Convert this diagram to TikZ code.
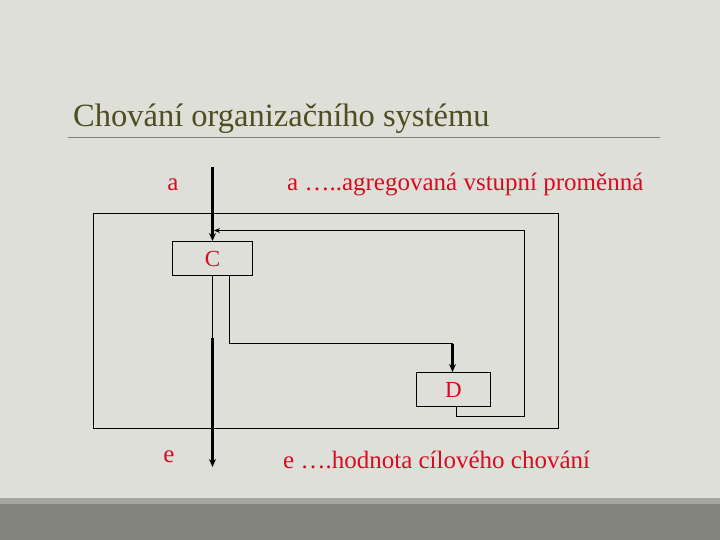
\documentclass[tikz,border=0pt]{standalone}
\usepackage{fontspec}
\setmainfont{Liberation Serif}
\usetikzlibrary{arrows.meta, positioning, calc}
\definecolor{slidebg}{RGB}{223,223,217}
\definecolor{bandlight}{RGB}{166,166,160}
\definecolor{banddark}{RGB}{132,132,126}
\definecolor{titleolive}{RGB}{78,78,32}
\definecolor{labelred}{RGB}{215,12,32}
\tikzset{
  block/.style={draw=black, line width=1pt, minimum width=80bp, minimum height=34bp, inner sep=0pt,
    text=labelred, font=\fontsize{23bp}{26bp}\selectfont},
  wire/.style={draw=black, line width=1pt},
  flow/.style={draw=black, line width=2.2pt, -{Stealth[length=8bp, width=7bp]}},
  redtext/.style={text=labelred, font=\fontsize{25bp}{29bp}\selectfont, inner sep=0pt}
}
\begin{document}
\begin{tikzpicture}[x=1bp, y=-1bp]

  % slide background
  \fill[slidebg] (0,0) rectangle (720,540);
  \fill[bandlight] (0,498) rectangle (720,504);
  \fill[banddark] (0,504) rectangle (720,540);
  \useasboundingbox (0,0) rectangle (720,540);

  % title
  \node[anchor=base west, inner sep=0pt, text=titleolive, font=\fontsize{32.5bp}{38bp}\selectfont] (title) at (73,127) {Chování organizačního systému};
  \draw[line width=0.8pt, draw=gray] (68,137) -- (660,137);

  % system boundary
  \draw[wire] (93.5,213.5) rectangle (558.5,428.5);

  % blocks
  \node[block] (C) at (212.5,258.5) {C};
  \node[block, minimum width=74bp] (D) at (453.5,389.5) {D};

  % labels
  \node[redtext, anchor=base] (ain) at (173,191) {a};
  \node[redtext, anchor=base west] (adesc) at (287,191) {a …..agregovaná vstupní proměnná};
  \node[redtext, anchor=base] (eout) at (169,462) {e};
  \node[redtext, anchor=base west] (edesc) at (283,468) {e ….hodnota cílového chování};

  % input
  \coordinate (atop) at (212.5,167);
  \draw[flow] (atop) -- (C.north -| atop);

  % C to D
  \coordinate (cd1) at (229.5,343.5);
  \draw[wire] (C.south -| cd1) -- (cd1) -- (cd1 -| 452.5,0);
  \draw[flow] (cd1 -| 452.5,0) -- (D.north -| 452.5,0);

  % feedback D to C
  \coordinate (fb1) at (456.5,416.5);
  \coordinate (fb2) at (524.5,416.5);
  \coordinate (fb3) at (524.5,230.5);
  \draw[wire] (D.south -| fb1) -- (fb1) -- (fb2) -- (fb3);
  \draw[wire, -{Stealth[length=6bp, width=5bp]}] (fb3) -- (214,230.5);

  % output
  \coordinate (esplit) at (212.5,338);
  \coordinate (ebot) at (212.5,467);
  \draw[wire] (C.south -| esplit) -- (esplit);
  \draw[flow] (esplit) -- (ebot);

\end{tikzpicture}
\end{document}
